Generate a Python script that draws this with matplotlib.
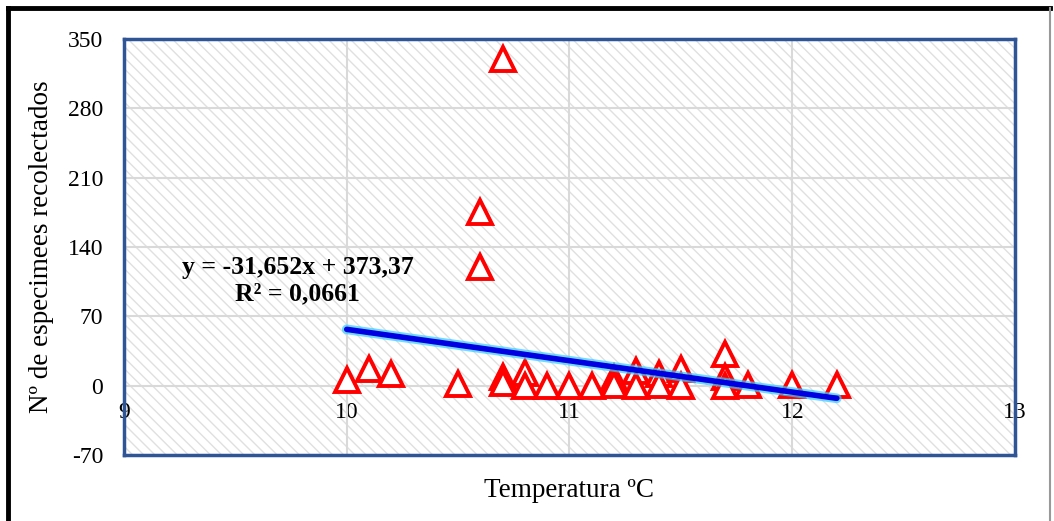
import matplotlib.pyplot as plt
from matplotlib.lines import Line2D
from matplotlib.patches import Rectangle
import numpy as np

# data
temperatura = [10.0, 10.1, 10.2, 10.5, 10.6, 10.6, 10.7, 10.7, 10.7, 10.8, 10.8,
               10.9, 11.0, 11.1, 11.2, 11.2, 11.3, 11.3, 11.4, 11.4, 11.5, 11.5,
               11.7, 11.7, 11.7, 11.8, 12.0, 12.2]
especimenes = [6, 17, 12, 2, 175, 120, 330, 9, 3, 13, 0,
               0, 0, 0, 8, 1, 15, 0, 12, 1, 17, 0,
               32, 9, 0, 1, 1, 1]
slope, intercept = -31.652, 373.37
eq_text = 'y = -31,652x + 373,37\nR² = 0,0661'

x_ticks = [9, 10, 11, 12, 13]
y_ticks = [-70, 0, 70, 140, 210, 280, 350]

plt.rcParams['font.family'] = ['Liberation Serif', 'DejaVu Serif']
plt.rcParams['axes.unicode_minus'] = False
plt.rcParams['hatch.linewidth'] = 1.0

fig = plt.figure(figsize=(10.54, 5.21), dpi=100)
ax = fig.add_axes([0.1176, 0.1267, 0.8454, 0.7984])

ax.set_xlim(x_ticks[0], x_ticks[-1])
ax.set_ylim(y_ticks[0], y_ticks[-1])

# hatched plot area
bg = Rectangle((0, 0), 1, 1, transform=ax.transAxes, facecolor='white',
               edgecolor='#e0e0e0', hatch='\\\\\\', lw=0, zorder=0)
ax.add_patch(bg)

ax.set_axisbelow(True)
ax.grid(True, color='#d9d9d9', lw=1.5)
ax.set_xticks(x_ticks)
ax.set_yticks(y_ticks)
ax.tick_params(length=0, labelsize=17)
ax.set_xticklabels([])
ax.tick_params(axis='y', pad=15)

for s in ax.spines.values():
    s.set_color('#2f5597')
    s.set_linewidth(2.5)

# x labels sit on the y=0 line (axis crosses at zero)
frac = (0 - y_ticks[0]) / (y_ticks[-1] - y_ticks[0])
sec = ax.secondary_xaxis(frac)
sec.set_xticks(x_ticks)
sec.tick_params(length=0, labelsize=17, pad=12)
sec.spines['bottom'].set_visible(False)

ax.plot(temperatura, especimenes, linestyle='none', marker='^', markersize=17,
        markerfacecolor='white', markeredgecolor='#ff0000', markeredgewidth=2.8,
        zorder=3)

xs = np.array([min(temperatura), max(temperatura)])
ys = slope * xs + intercept
ax.plot(xs, ys, color='#33ccff', lw=7, alpha=0.7, solid_capstyle='round', zorder=4)
ax.plot(xs, ys, color='#0000e0', lw=4, solid_capstyle='round', zorder=5)

ax.text(9.78, 106, eq_text, ha='center', va='center', fontsize=18.5,
        fontweight='bold', linespacing=1.2, zorder=6)

ax.set_ylabel('Nº de especimees recolectados', fontsize=19.5, labelpad=10)
ax.set_xlabel('Temperatura ºC', fontsize=19.5, labelpad=13)

# outer chart frame
fig.add_artist(Line2D([0.008, 0.996], [0.985, 0.985], color='black', lw=3.5))
fig.add_artist(Line2D([0.008, 0.008], [0.0, 0.985], color='black', lw=3.5))
fig.add_artist(Line2D([0.996, 0.996], [0.0, 0.985], color='#999999', lw=1.5))

fig.savefig('out.png', dpi=100)
